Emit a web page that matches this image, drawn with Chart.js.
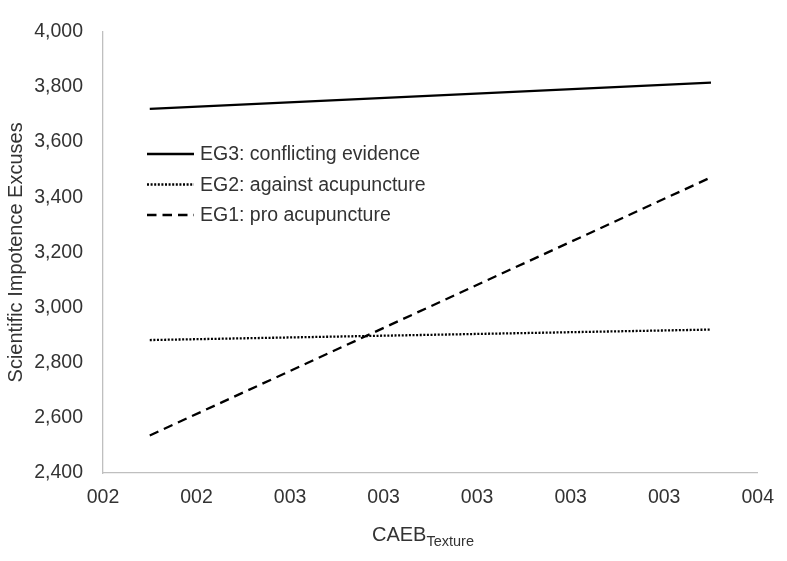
<!DOCTYPE html>
<html>
<head>
<meta charset="utf-8">
<script src="https://cdn.jsdelivr.net/npm/chart.js@4/dist/chart.umd.min.js"></script>
<style>
  html, body { margin: 0; padding: 0; background: #ffffff; }
  #wrap { width: 787px; height: 561px; position: relative; }
</style>
</head>
<body>
<div id="wrap"><canvas id="c" width="787" height="561"></canvas></div>
<script>
// ---- data ----
const xTickLabels = ['002', '002', '003', '003', '003', '003', '003', '004'];
const xPositions = [0.5, 6.5];
const seriesNames = ['EG3: conflicting evidence', 'EG2: against acupuncture', 'EG1: pro acupuncture'];
const eg3Values = [3720, 3815];
const eg2Values = [2882, 2920];
const eg1Values = [2536, 3472];
const yTicks = [2400, 2600, 2800, 3000, 3200, 3400, 3600, 3800, 4000];

const FONT = "'Liberation Sans', Arial, sans-serif";
const TXT = '#333333';
const dashes = [[], [2, 1.6], [9.5, 6]];
const allValues = [eg3Values, eg2Values, eg1Values];

const datasets = allValues.map((vals, i) => ({
  label: seriesNames[i],
  data: vals.map((v, j) => ({ x: xPositions[j], y: v })),
  borderColor: '#000000',
  borderWidth: 2.3,
  borderDash: dashes[i],
  borderCapStyle: 'butt',
  pointRadius: 0,
  fill: false,
  tension: 0
}));

const legendPlugin = {
  id: 'customLegend',
  afterDraw(chart) {
    const ctx = chart.ctx;
    ctx.save();
    ctx.font = '19.5px ' + FONT;
    ctx.textBaseline = 'middle';
    seriesNames.forEach((name, i) => {
      const y = 154 + i * 30.5;
      ctx.beginPath();
      ctx.setLineDash(dashes[i]);
      ctx.lineWidth = 2.3;
      ctx.strokeStyle = '#000';
      ctx.moveTo(147, y);
      ctx.lineTo(194, y);
      ctx.stroke();
      ctx.setLineDash([]);
      ctx.fillStyle = TXT;
      ctx.fillText(name, 200, y + 1);
    });
    ctx.restore();
  }
};

const xTitlePlugin = {
  id: 'xTitle',
  afterDraw(chart) {
    const ctx = chart.ctx;
    ctx.save();
    ctx.fillStyle = TXT;
    ctx.textBaseline = 'alphabetic';
    ctx.font = '20px ' + FONT;
    const main = 'CAEB';
    const wMain = ctx.measureText(main).width;
    ctx.font = '14.5px ' + FONT;
    const sub = 'Texture';
    const wSub = ctx.measureText(sub).width;
    const cx = 423;
    const x0 = cx - (wMain + wSub) / 2;
    const base = 541;
    ctx.font = '20px ' + FONT;
    ctx.fillText(main, x0, base);
    ctx.font = '14.5px ' + FONT;
    ctx.fillText(sub, x0 + wMain, base + 5);
    ctx.restore();
  }
};

new Chart(document.getElementById('c'), {
  type: 'line',
  data: { datasets },
  options: {
    responsive: false,
    animation: false,
    devicePixelRatio: 1,
    layout: { padding: { left: 0, right: 25, top: 16, bottom: 0 } },
    plugins: { legend: { display: false }, tooltip: { enabled: false } },
    scales: {
      x: {
        type: 'linear',
        min: 0,
        max: 7,
        afterFit(scale) { scale.height = 88; },
        afterBuildTicks(scale) {
          scale.ticks = xTickLabels.map((_, i) => ({ value: i }));
        },
        ticks: {
          autoSkip: false,
          maxRotation: 0,
          padding: 13,
          color: TXT,
          font: { family: FONT, size: 19.5 },
          callback: (v) => xTickLabels[Math.round(v)]
        },
        grid: { display: false, drawTicks: false },
        border: { display: true, color: '#bfbfbf', width: 1.3 }
      },
      y: {
        type: 'linear',
        min: 2400,
        max: 4000,
        afterFit(scale) { scale.width = 103; },
        afterBuildTicks(scale) {
          scale.ticks = yTicks.map(v => ({ value: v }));
        },
        ticks: {
          padding: 20,
          color: TXT,
          font: { family: FONT, size: 19.5 },
          callback: (v) => v.toLocaleString('en-US')
        },
        grid: { display: false, drawTicks: false },
        border: { display: true, color: '#bfbfbf', width: 1.3 },
        title: {
          display: true,
          text: 'Scientific Impotence Excuses',
          color: TXT,
          font: { family: FONT, size: 20, lineHeight: 1.2 },
          padding: { top: 4, bottom: 0 }
        }
      }
    }
  },
  plugins: [legendPlugin, xTitlePlugin]
});
</script>
</body>
</html>
